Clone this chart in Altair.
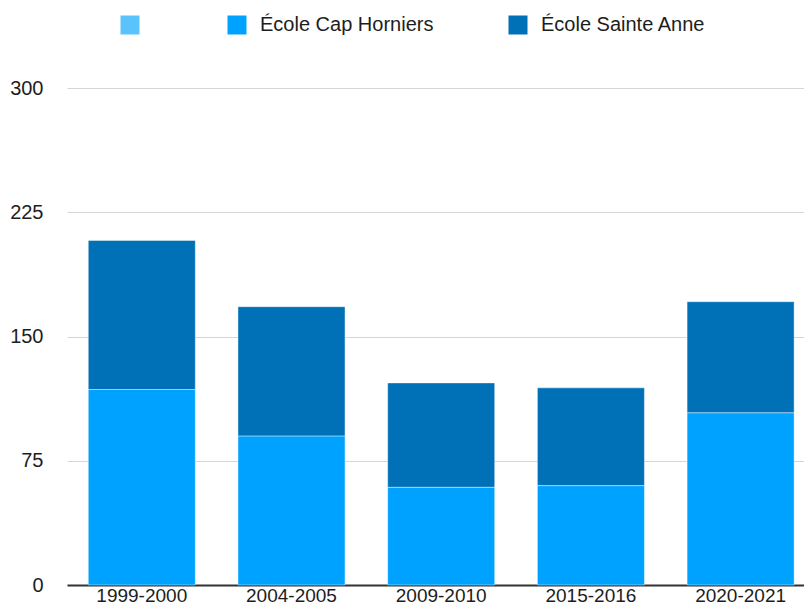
import altair as alt
import pandas as pd

years = ["1999-2000", "2004-2005", "2009-2010", "2015-2016", "2020-2021"]
cap_horniers = [118, 90, 59, 60, 104]
sainte_anne = [90, 78, 63, 59, 67]

series_names = ["", "École Cap Horniers", "École Sainte Anne"]
series_colors = ["#5BC3FB", "#00A2FF", "#0071B6"]

rows = []
for i, y in enumerate(years):
    rows.append({"year": y, "school": series_names[1], "value": cap_horniers[i], "idx": 1})
    rows.append({"year": y, "school": series_names[2], "value": sainte_anne[i], "idx": 2})
df = pd.DataFrame(rows)

FONT = "Liberation Sans"

chart = alt.Chart(df).mark_bar(
    stroke="#ffffff", strokeWidth=0.8, strokeOpacity=0.55
).encode(
    x=alt.X("year:N", sort=years,
            scale=alt.Scale(paddingInner=0.285, paddingOuter=0.104, align=0.683),
            axis=alt.Axis(title=None, labelAngle=0, labelPadding=1, labelFontSize=19,
                          labelFont=FONT, labelColor="#1d1d1d",
                          ticks=False, tickSize=0, domain=True, domainColor="#333333",
                          domainWidth=2, grid=False)),
    y=alt.Y("value:Q", stack="zero",
            scale=alt.Scale(domain=[0, 300], nice=False),
            axis=alt.Axis(title=None, values=[0, 75, 150, 225, 300], labelFontSize=20,
                          labelFont=FONT, labelColor="#1d1d1d", labelPadding=24,
                          ticks=False, tickSize=0, domain=False, grid=True,
                          gridColor="#d6d6d6", gridWidth=1)),
    color=alt.Color("school:N",
                    scale=alt.Scale(domain=series_names, range=series_colors),
                    legend=alt.Legend(title=None, orient="none", legendX=53, legendY=-73,
                                      direction="horizontal", columnPadding=74,
                                      labelOffset=13, symbolType="square", symbolSize=361,
                                      symbolStrokeWidth=0, labelFontSize=20, labelFont=FONT,
                                      labelColor="#1d1d1d", labelLimit=400, padding=0)),
    order=alt.Order("idx:Q", sort="ascending"),
).properties(
    width=737, height=497,
    autosize="none",
    padding={"left": 59, "top": 80, "right": 0, "bottom": 21},
).configure_view(stroke=None)

chart.save("out.html", embed_options={"renderer": "svg", "actions": False})
